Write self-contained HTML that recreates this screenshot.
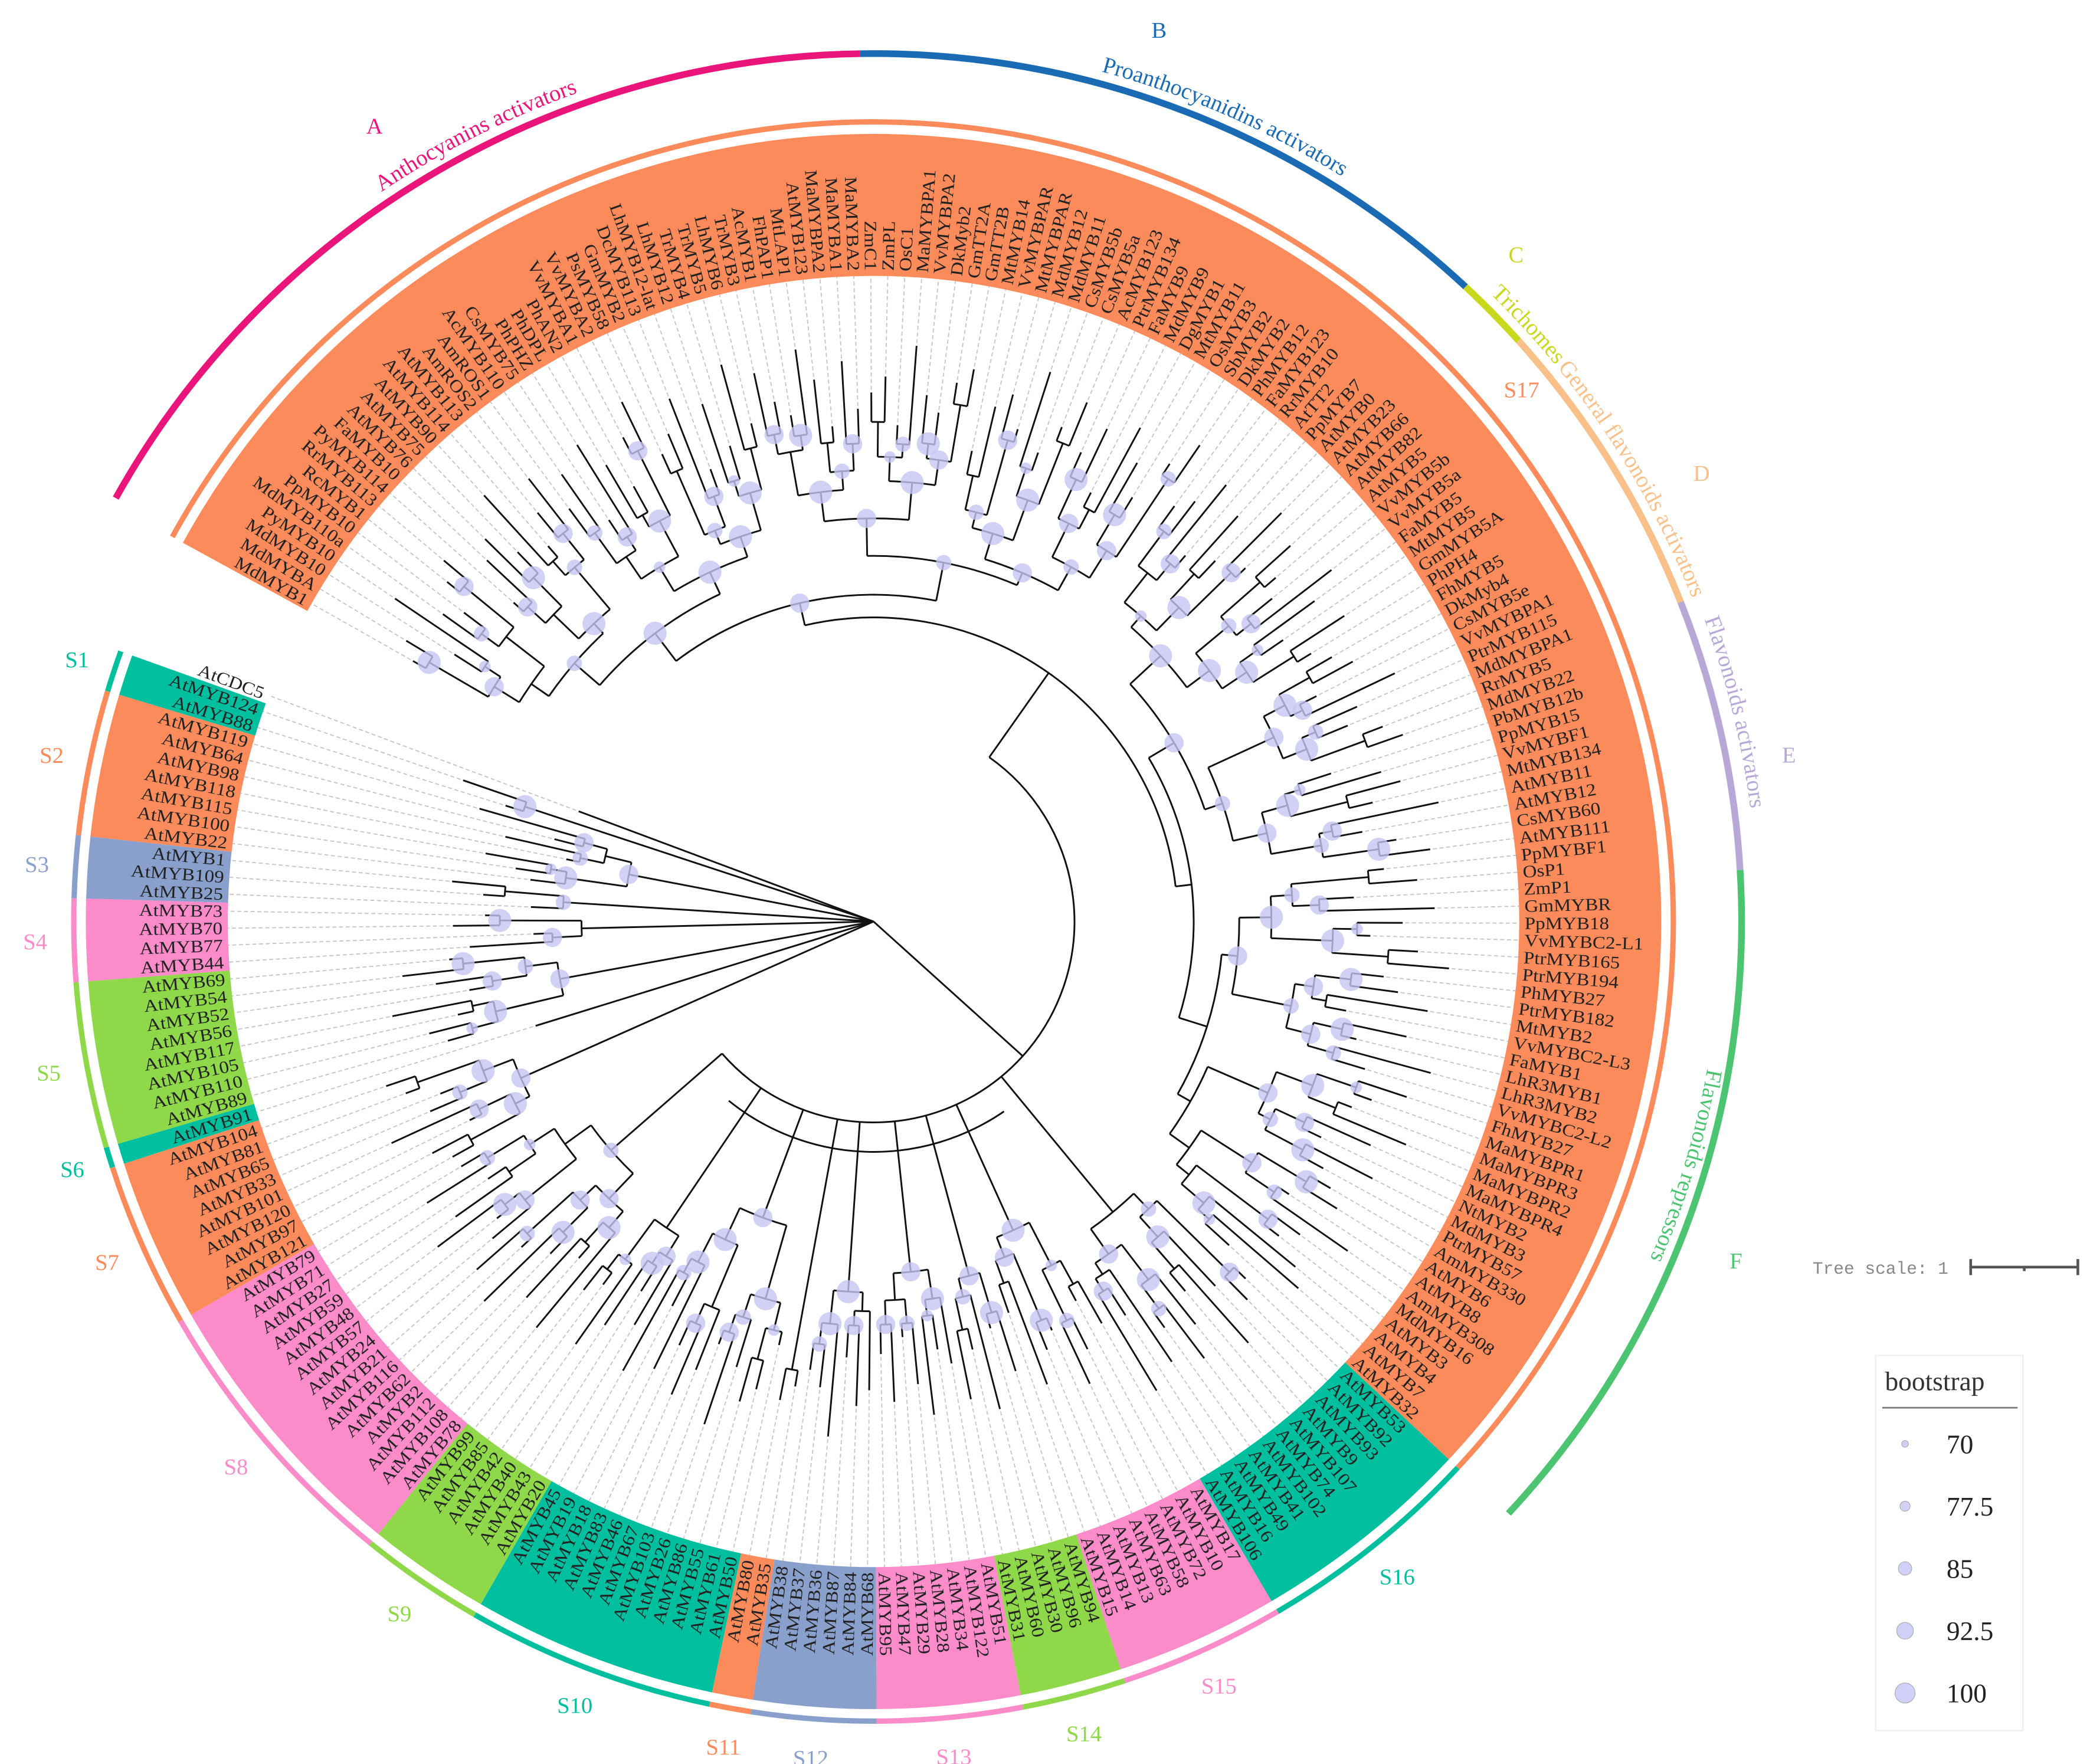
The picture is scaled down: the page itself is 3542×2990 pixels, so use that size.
<!DOCTYPE html>
<html><head><meta charset="utf-8"><style>
html,body{margin:0;padding:0;background:#fff;}
svg{display:block;}
.lf{font-family:"Liberation Serif",serif;font-size:13px;fill:#222;}
.gl{font-family:"Liberation Serif",serif;font-size:17px;}
.an{font-family:"Liberation Serif",serif;font-size:17px;}
</style></head><body>
<svg id="chart" width="3542" height="2990" viewBox="0 0 1560 1317" xmlns="http://www.w3.org/2000/svg">
<g id="bands"></g>
<g id="dashes"></g>
<g id="tree"></g>
<g id="boots"></g>
<g id="labels"></g>
<g id="ann"></g>
<g>
<text x="1353" y="951" font-family="Liberation Mono, monospace" font-size="13" fill="#888">Tree scale: 1</text>
<path d="M1471 946 H1551 M1471 940 V952 M1551 940 V952 M1511 946 V949" stroke="#555" stroke-width="2" fill="none"/>
</g>
<g>
<rect x="1400" y="1012" width="110" height="280" fill="#fff" stroke="#eee"/>
<text x="1407" y="1038" font-family="Liberation Serif, serif" font-size="20" fill="#333">bootstrap</text>
<line x1="1405" y1="1051" x2="1506" y2="1051" stroke="#777" stroke-width="1.2"/>
<g id="legitems"></g>
</g>
</svg>
<script>
const leafNames=["AtCDC5","AtMYB124","AtMYB88","AtMYB119","AtMYB64","AtMYB98","AtMYB118","AtMYB115","AtMYB100","AtMYB22","AtMYB1","AtMYB109","AtMYB25","AtMYB73","AtMYB70","AtMYB77","AtMYB44","AtMYB69","AtMYB54","AtMYB52","AtMYB56","AtMYB117","AtMYB105","AtMYB110","AtMYB89","AtMYB91","AtMYB104","AtMYB81","AtMYB65","AtMYB33","AtMYB101","AtMYB120","AtMYB97","AtMYB121","AtMYB79","AtMYB71","AtMYB27","AtMYB59","AtMYB48","AtMYB57","AtMYB24","AtMYB21","AtMYB116","AtMYB62","AtMYB2","AtMYB112","AtMYB108","AtMYB78","AtMYB99","AtMYB85","AtMYB42","AtMYB40","AtMYB43","AtMYB20","AtMYB45","AtMYB19","AtMYB18","AtMYB83","AtMYB46","AtMYB67","AtMYB103","AtMYB26","AtMYB86","AtMYB55","AtMYB61","AtMYB50","AtMYB80","AtMYB35","AtMYB38","AtMYB37","AtMYB36","AtMYB87","AtMYB84","AtMYB68","AtMYB95","AtMYB47","AtMYB29","AtMYB28","AtMYB34","AtMYB122","AtMYB51","AtMYB31","AtMYB60","AtMYB30","AtMYB96","AtMYB94","AtMYB15","AtMYB14","AtMYB13","AtMYB63","AtMYB58","AtMYB72","AtMYB10","AtMYB17","AtMYB106","AtMYB16","AtMYB49","AtMYB41","AtMYB102","AtMYB74","AtMYB107","AtMYB9","AtMYB93","AtMYB92","AtMYB53",
"AtMYB32","AtMYB7","AtMYB4","AtMYB3","MdMYB16","AmMYB308","AtMYB8","AtMYB6","AmMYB330","PtrMYB57","MdMYB3","NtMYB2","MaMYBPR4","MaMYBPR2","MaMYBPR3","MaMYBPR1","FhMYB27","VvMYBC2-L2","LhR3MYB2","LhR3MYB1","FaMYB1","VvMYBC2-L3","MtMYB2","PtrMYB182","PhMYB27","PtrMYB194","PtrMYB165","VvMYBC2-L1","PpMYB18","GmMYBR","ZmP1","OsP1","PpMYBF1","AtMYB111","CsMYB60","AtMYB12","AtMYB11","MtMYB134","VvMYBF1","PpMYB15","PbMYB12b","MdMYB22","RrMYB5","MdMYBPA1","PtrMYB115","VvMYBPA1","CsMYB5e","DkMyb4","FhMYB5","PhPH4","GmMYB5A","MtMYB5","FaMYB5","VvMYB5a","VvMYB5b","AtMYB5","AtMYB82","AtMYB66","AtMYB23","AtMYB0","PpMYB7","AtTT2","RrMYB10","FaMYB123","PhMYB12","DkMYB2","SbMYB2","OsMYB3","MtMYB11","DgMYB1","MdMYB9","FaMYB9","PtrMYB134","AcMYB123","CsMYB5a","CsMYB5b","MdMYB11","MdMYB12","MtMYBPAR","VvMYBPAR","MtMYB14","GmTT2B","GmTT2A","DkMyb2","VvMYBPA2","MaMYBPA1","OsC1","ZmPL","ZmC1","MaMYBA2","MaMYBA1","MaMYBPA2","AtMYB123","MtLAP1","FhPAP1","AcMYB1","TrMYB3","LhMYB6","TrMYB5","TrMYB4","LhMYB12","LhMYB12-lat","DcMYB113","GmMYB2","PsMYB58","VvMYBA2","VvMYBA1","PhAN2","PhDPL","PhPHZ","CsMYB75","AcMYB110","AmROS1","AmROS2","AtMYB113","AtMYB114","AtMYB90","AtMYB75","AtMYB76","FaMYB10","PyMYB114","RrMYB113","RcMYB1","PpMYB10","MdMYB110a","PyMYB10","MdMYB10","MdMYBA","MdMYB1"];
const groupNames=["out","S1","S2","S3","S4","S5","S6","S7","S8","S9","S10","S11","S12","S13","S14","S15","S16","S17"];
const groupSizes=[1,2,7,3,4,8,1,8,14,6,12,2,6,7,5,8,11,129];
const groupColors=["none","#00bf9f","#fc8b5c","#8aa0cc","#fb8bc9","#8ed84a","#00bf9f","#fc8b5c","#fb8bc9","#8ed84a","#00bf9f","#fc8b5c","#8aa0cc","#fb8bc9","#8ed84a","#fb8bc9","#00bf9f","#fc8b5c"];
const groupTip=[235,300,270,280,290,330,300,360,370,350,360,340,350,335,340,345,385,395];
const tipJitter=[0,2,-1,3,-2,1,-3,2,0,-1,3,1,-2,0,2,-3,1,-1,2,0,-2,3,-1,1,0,-3,2,1,-1,0,3,-2,1,0,-1,2,-2,1,3,-1];
const gaps=[14,22,10,18,26,12,20,16,24,11];
const bootVals=[100,92.5,85,100,77.5,100,92.5,70,85,100,92.5,100];
const annNames=["A","B","C","D","E","F"];
const annTitles=["Anthocyanins activators","Proanthocyanidins activators","Trichomes","General flavonoids activators","Flavonoids activators","Flavonoids repressors"];
const annStart=[-150.8,-90.9,-47,-42,-21.6,-3.4];
const annEnd=[-90.9,-47,-42,-21.6,-3.4,43];
const annTextStart=[-124,-75,-45.5,-39,-20,10];
const annTextR=[657,657,657,657,660,632];
const annLetterA=[-122,-72.3,-46.2,-28.6,-10.5,21.3];
const annLetterR=[703,701,693,704,695,691];
const annColors=["#ea157b","#1a6bb4","#c8d81c","#f9c08a","#b8a8d8","#4cc471"];
const legendVals=[70,77.5,85,92.5,100];

const NS="http://www.w3.org/2000/svg";
const cx=652,cy=688,R_IN=482,R_OUT=588,R_THIN=597,R_ANN=648;
const N=leafNames.length, A0=200.5, A1=-150.5, STEP=(A0-A1)/(N-1);
function theta(i){return A0-i*STEP;}
function P(r,a){const t=a*Math.PI/180;return [cx+r*Math.cos(t),cy+r*Math.sin(t)];}
function arcD(r,a1,a2){const lo=Math.min(a1,a2),hi=Math.max(a1,a2);const p=P(r,lo),q=P(r,hi);return `M${p[0]} ${p[1]} A${r} ${r} 0 ${hi-lo>180?1:0} 1 ${q[0]} ${q[1]}`;}
function mk(tag,attrs,parent){const e=document.createElementNS(NS,tag);for(const k in attrs)e.setAttribute(k,attrs[k]);parent.appendChild(e);return e;}
function bootR(v){return 2.5+(v-70)/30*5;}
const gB=document.getElementById('bands'),gD=document.getElementById('dashes'),gT=document.getElementById('tree'),gBo=document.getElementById('boots'),gL=document.getElementById('labels'),gA=document.getElementById('ann');

const gStart=[];let acc=0;groupSizes.forEach(s=>{gStart.push(acc);acc+=s;});
const leafGroup=[];groupSizes.forEach((s,g)=>{for(let k=0;k<s;k++)leafGroup.push(g);});
const tipR=leafNames.map((n,i)=>groupTip[leafGroup[i]]+tipJitter[i%tipJitter.length]*12);

groupSizes.forEach((s,g)=>{
  const a1=theta(gStart[g])+STEP/2,a2=theta(gStart[g]+s-1)-STEP/2;
  if(g===0)return;
  const p1=P(R_IN,a2),p2=P(R_IN,a1),q1=P(R_OUT,a1),q2=P(R_OUT,a2);
  const large=(a1-a2)>180?1:0;
  const band=mk('path',{d:`M${p1[0]} ${p1[1]} A${R_IN} ${R_IN} 0 ${large} 1 ${p2[0]} ${p2[1]} L${q1[0]} ${q1[1]} A${R_OUT} ${R_OUT} 0 ${large} 0 ${q2[0]} ${q2[1]} Z`,fill:groupColors[g]},gB);
  
  
  const thin=mk('path',{d:arcD(R_THIN,a1,a2),stroke:groupColors[g],'stroke-width':4,fill:'none'},gB);
  
  
  const am=(g===17)?-39.4:(a1+a2)/2,lp=P(626,am);
  const t=mk('text',{x:lp[0],y:lp[1]+6,'text-anchor':'middle',fill:groupColors[g],class:'gl'},gB);
  t.textContent=groupNames[g];
  
  
});

leafNames.forEach((n,i)=>{
  const a=theta(i),p=P(tipR[i]+2,a),q=P(R_IN,a);
  const l=mk('line',{x1:p[0],y1:p[1],x2:q[0],y2:q[1],stroke:'#c4c4c4','stroke-width':0.8,'stroke-dasharray':'3 2'},gD);
  
  
  const left=(a>90||a<-90);
  const rot=left?a+180:a;
  const tp=P(R_IN+4,a);
  const t=mk('text',{class:'lf',transform:`translate(${tp[0]},${tp[1]}) rotate(${rot}) scale(1.12,1)`,'text-anchor':left?'end':'start',dy:'4.4'},gL);
  t.textContent=n;
  
  
});

let nodeCount=0;
function line(r1,r2,a){const p=P(r1,a),q=P(r2,a);const e=mk('line',{x1:p[0],y1:p[1],x2:q[0],y2:q[1],stroke:'#111','stroke-width':1.3},gT);}
function arc(r,a1,a2){const e=mk('path',{d:arcD(r,a1,a2),stroke:'#111','stroke-width':1.3,fill:'none'},gT);}
function build(lo,hi,floor){
  if(lo===hi)return{r:tipR[lo],a:theta(lo)};
  const mid=Math.floor((lo+hi)/2);
  const L=build(lo,mid,floor),Rr=build(mid+1,hi,floor);
  let r=Math.min(L.r,Rr.r)-gaps[nodeCount%gaps.length];
  r=Math.max(r,floor+12);
  line(r,L.r,L.a);line(r,Rr.r,Rr.a);arc(r,L.a,Rr.a);
  const a=(L.a+Rr.a)/2;
  if(nodeCount%4!==3){const v=bootVals[nodeCount%bootVals.length];const p=P(r,a);
    const c=mk('circle',{cx:p[0],cy:p[1],r:bootR(v)*1.15,fill:'#c6c6f4','fill-opacity':0.8},gBo);
    }
  nodeCount++;
  return{r,a};
}
const roots=groupSizes.map((s,g)=>build(gStart[g],gStart[g]+s-1,g<8?20:150));
for(let g=0;g<8;g++){line(0,roots[g].r,roots[g].a);}
const BB=150;
for(let g=8;g<roots.length;g++){line(BB,roots[g].r,roots[g].a);}
arc(BB,roots[8].a,roots[17].a);
arc(BB+22,roots[8].a-10,roots[16].a+5);
line(0,BB,(roots[8].a+roots[17].a)/2);

annNames.forEach((nm,k)=>{
  const a=mk('path',{d:arcD(R_ANN,annStart[k],annEnd[k]),stroke:annColors[k],'stroke-width':5,fill:'none'},gA);
  
  
  const id='tp'+k;
  mk('path',{id:id,d:arcD(annTextR[k],annTextStart[k],annTextStart[k]+60),fill:'none',stroke:'none'},gA);
  const t=mk('text',{class:'an',fill:annColors[k]},gA);
  
  
  const tp=document.createElementNS(NS,'textPath');
  tp.setAttribute('href','#'+id);tp.setAttribute('startOffset','0');
  tp.textContent=annTitles[k];t.appendChild(tp);
  const lp=P(annLetterR[k],annLetterA[k]);
  const L=mk('text',{x:lp[0],y:lp[1]+8,'text-anchor':'middle',fill:annColors[k],class:'an','font-size':22},gA);
  L.textContent=nm;
  
  
});

const gLeg=document.getElementById('legitems');
legendVals.forEach((v,k)=>{
  const y=1078+k*46.5;
  const c=mk('circle',{cx:1422,cy:y,r:bootR(v),fill:'#d0d0f8',stroke:'#aaa','stroke-width':0.5},gLeg);
  
  
  const t=mk('text',{x:1453,y:y+7,'font-family':'Liberation Serif, serif','font-size':20,fill:'#222'},gLeg);
  t.textContent=String(v);
  
  
});
</script>
</body></html>
